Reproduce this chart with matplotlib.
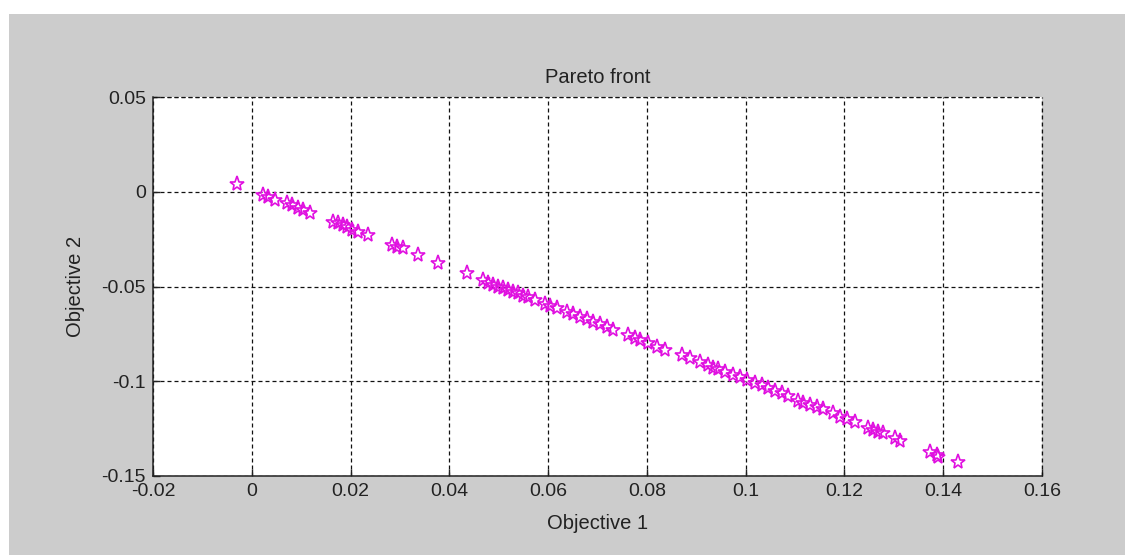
import matplotlib
matplotlib.use("Agg")
import matplotlib.pyplot as plt
from matplotlib.patches import Rectangle

obj1 = [-0.0030, 0.0023, 0.0033, 0.0047, 0.0071, 0.0081, 0.0094, 0.0104, 0.0118,
        0.0164, 0.0175, 0.0185, 0.0193, 0.0203, 0.0215, 0.0235,
        0.0284, 0.0294, 0.0306, 0.0336, 0.0377, 0.0436,
        0.0468, 0.0478, 0.0488, 0.0498, 0.0509, 0.0519, 0.0529, 0.0539, 0.0549,
        0.0559, 0.0573, 0.0594, 0.0604, 0.0618, 0.0638, 0.0650, 0.0664, 0.0679,
        0.0691, 0.0705, 0.0719, 0.0731, 0.0762, 0.0776, 0.0786, 0.0802, 0.0820,
        0.0836, 0.0871, 0.0887, 0.0907, 0.0924, 0.0934, 0.0944, 0.0958, 0.0974,
        0.0988, 0.1002, 0.1019, 0.1033, 0.1045, 0.1059, 0.1073, 0.1085, 0.1106,
        0.1116, 0.1130, 0.1144, 0.1156, 0.1177, 0.1191, 0.1205, 0.1221, 0.1247,
        0.1258, 0.1268, 0.1278, 0.1302, 0.1312, 0.1373, 0.1387, 0.1389, 0.1430]
obj2 = [0.0041, -0.0017, -0.0028, -0.0044, -0.0059, -0.0070, -0.0086, -0.0096, -0.0112,
        -0.0160, -0.0165, -0.0175, -0.0186, -0.0202, -0.0212, -0.0228,
        -0.0281, -0.0292, -0.0297, -0.0334, -0.0376, -0.0429,
        -0.0466, -0.0482, -0.0492, -0.0503, -0.0508, -0.0518, -0.0529, -0.0534, -0.0550,
        -0.0555, -0.0571, -0.0592, -0.0603, -0.0613, -0.0635, -0.0645, -0.0661, -0.0672,
        -0.0687, -0.0698, -0.0714, -0.0730, -0.0756, -0.0772, -0.0782, -0.0798, -0.0819,
        -0.0835, -0.0861, -0.0877, -0.0898, -0.0914, -0.0930, -0.0935, -0.0951, -0.0967,
        -0.0978, -0.0993, -0.1009, -0.1020, -0.1036, -0.1051, -0.1062, -0.1078, -0.1104,
        -0.1115, -0.1125, -0.1136, -0.1146, -0.1168, -0.1189, -0.1199, -0.1215, -0.1247,
        -0.1257, -0.1268, -0.1273, -0.1299, -0.1315, -0.1373, -0.1389, -0.1400, -0.1426]

xticks = [-0.02, 0, 0.02, 0.04, 0.06, 0.08, 0.1, 0.12, 0.14, 0.16]
xticklabels = ["-0.02", "0", "0.02", "0.04", "0.06", "0.08", "0.1", "0.12", "0.14", "0.16"]
yticks = [-0.15, -0.1, -0.05, 0, 0.05]
yticklabels = ["-0.15", "-0.1", "-0.05", "0", "0.05"]

plt.rcParams['font.family'] = ['Liberation Sans', 'DejaVu Sans']

fig = plt.figure(figsize=(11.25, 5.55), dpi=100, facecolor='white')
fig.patches.append(Rectangle((9 / 1125, 0), 1, 1 - 14 / 555, transform=fig.transFigure,
                             facecolor='#cccccc', edgecolor='none', zorder=-10))

ax = fig.add_axes([153 / 1125, 1 - 476 / 555, (1042 - 153) / 1125, (476 - 97) / 555])
ax.set_facecolor('white')

ax.plot(obj1, obj2, linestyle='none', marker='*', markersize=11,
        markerfacecolor='none', markeredgecolor='#e010e0', markeredgewidth=1.2, zorder=3)

ax.set_xlim(-0.02, 0.16)
ax.set_ylim(-0.15, 0.05)
ax.set_xticks(xticks)
ax.set_xticklabels(xticklabels)
ax.set_yticks(yticks)
ax.set_yticklabels(yticklabels)

dash = (0, (3.2, 2.4))
ax.grid(True, color='#111111', linestyle=dash, linewidth=0.9)
ax.set_axisbelow(True)
for s in ['top', 'right']:
    ax.spines[s].set_visible(False)
for s in ['left', 'bottom']:
    ax.spines[s].set_linewidth(1.1)
    ax.spines[s].set_color('#222222')
ax.plot([0, 1], [1, 1], transform=ax.transAxes, color='#111111', linestyle=dash,
        linewidth=0.9, clip_on=False)
ax.plot([1, 1], [0, 1], transform=ax.transAxes, color='#111111', linestyle=dash,
        linewidth=0.9, clip_on=False)

ax.tick_params(direction='in', length=5, width=1, labelsize=14, colors='#222222')
ax.tick_params(axis='x', pad=5)
ax.tick_params(axis='y', pad=5)

ax.set_title("Pareto front", fontsize=14.5, pad=10, color='#222222')
ax.set_xlabel("Objective 1", fontsize=14.5, labelpad=10, color='#222222')
ax.set_ylabel("Objective 2", fontsize=14.5, labelpad=12, color='#222222')

fig.savefig("out.png", dpi=100, facecolor=fig.get_facecolor())
